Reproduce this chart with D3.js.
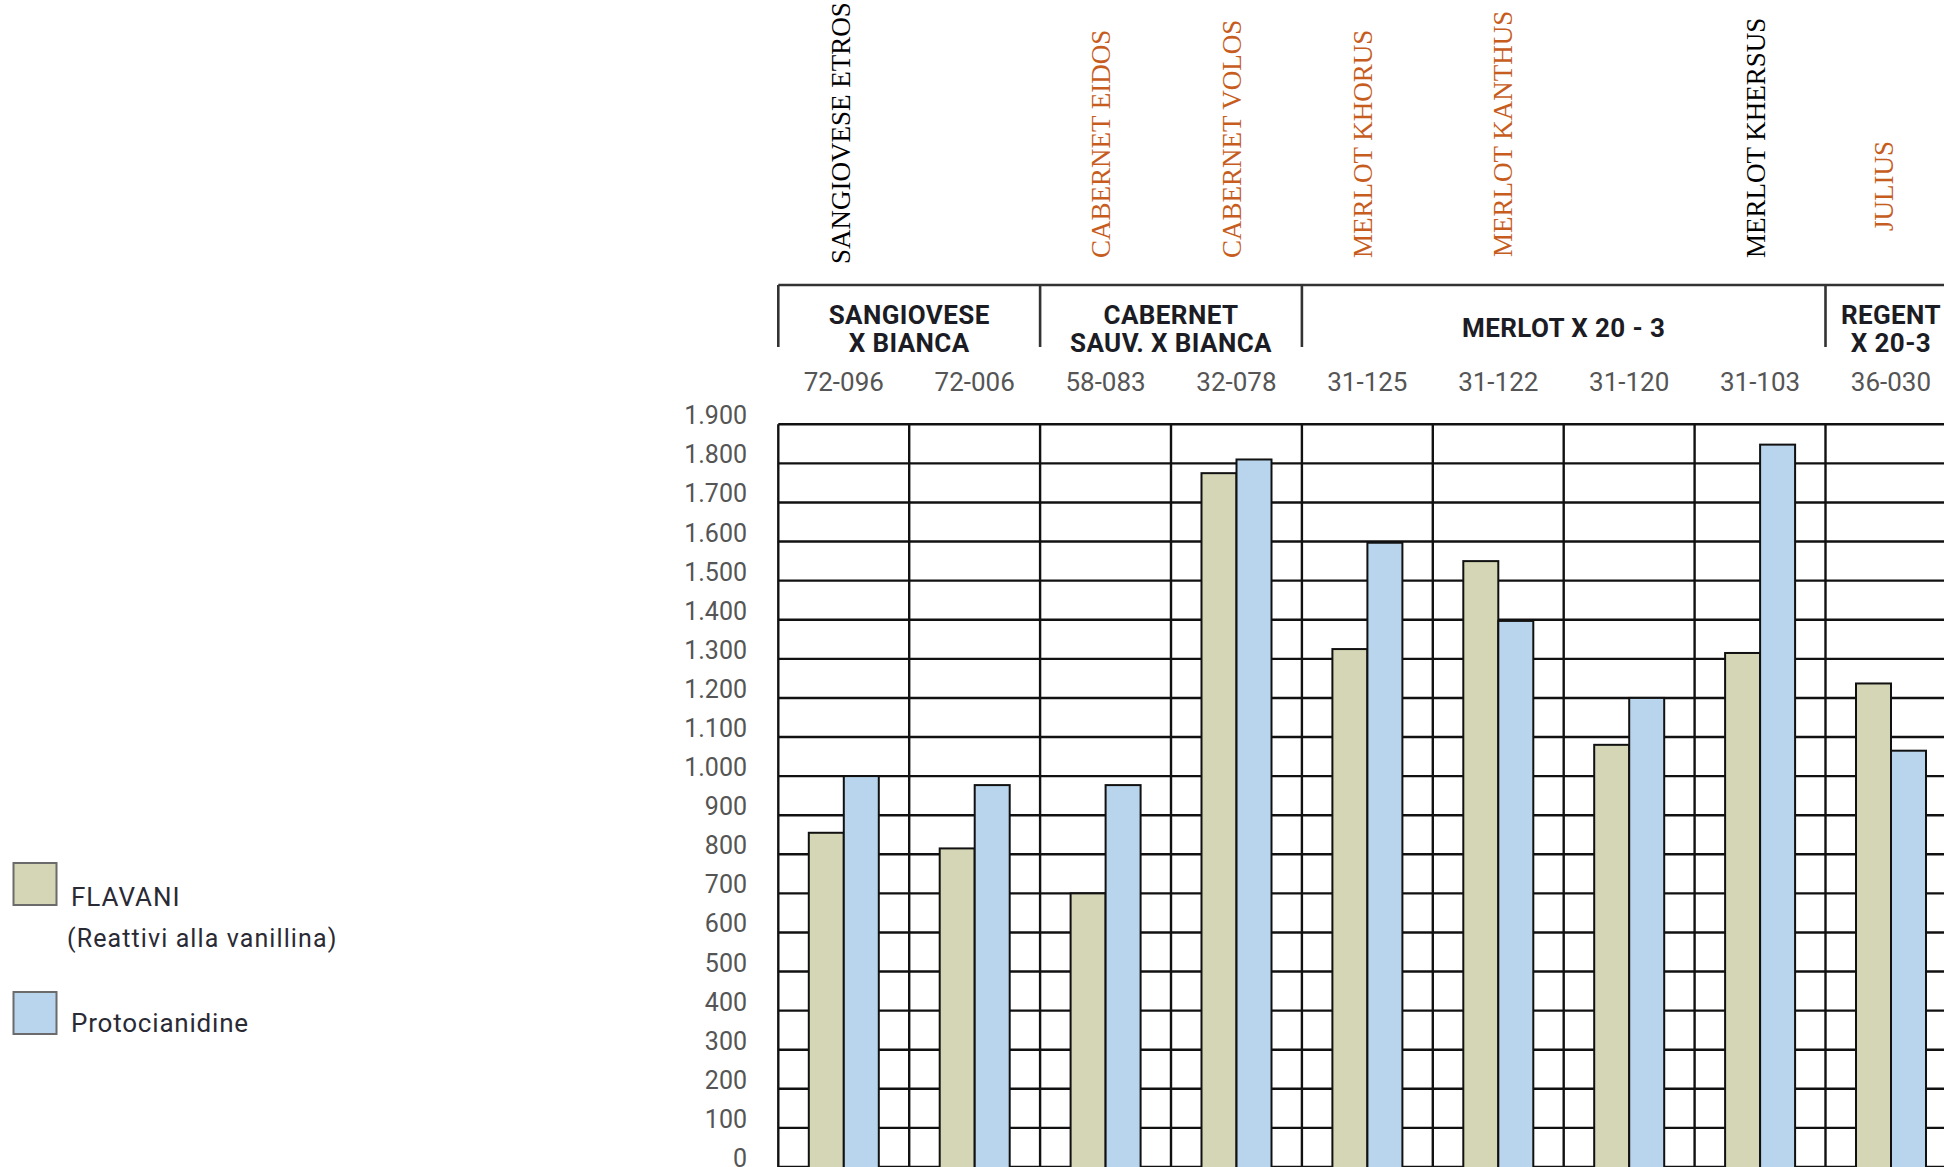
<!DOCTYPE html>
<html>
<head>
<meta charset="utf-8">
<script src="https://cdn.jsdelivr.net/npm/d3@7"></script>
<style>
  body { margin: 0; background: #fff; }
  svg { display: block; }
</style>
</head>
<body>
<svg id="chart" width="1944" height="1167"></svg>
<script>
// clone codes (x categories)
var codes = ["72-096", "72-006", "58-083", "32-078", "31-125", "31-122", "31-120", "31-103", "36-030"];
// FLAVANI (reattivi alla vanillina)
var flavani = [855, 815, 700, 1775, 1325, 1550, 1080, 1315, 1237];
// Protocianidine
var protocianidine = [1000, 977, 977, 1810, 1597, 1397, 1200, 1848, 1065];
// cultivar names written above each clone ("" = none)
var cultivarNames = ["SANGIOVESE ETROS", "", "CABERNET EIDOS", "CABERNET VOLOS", "MERLOT KHORUS", "MERLOT KANTHUS", "", "MERLOT KHERSUS", "JULIUS"];
// crossings and how many clones each one spans
var crossLabels = [["SANGIOVESE", "X BIANCA"], ["CABERNET", "SAUV. X BIANCA"], ["MERLOT X 20 - 3"], ["REGENT", "X 20-3"]];
var crossSpans = [2, 2, 4, 1];
var yTicks = [0, 100, 200, 300, 400, 500, 600, 700, 800, 900, 1000, 1100, 1200, 1300, 1400, 1500, 1600, 1700, 1800, 1900];
var seriesNames = ["FLAVANI", "Protocianidine"];

var svg = d3.select("#chart"),
    width = +svg.attr("width"),
    height = +svg.attr("height");

var colors = { FLAVANI: "#d5d6b5", Protocianidine: "#b8d5ed" },
    orange = "#c65d1e",
    sans = "Roboto, 'DejaVu Sans', sans-serif",
    serif = "'Liberation Serif', 'DejaVu Serif', serif";

var left = 778.3, step = 130.9;

var x = d3.scaleBand()
    .domain(codes)
    .range([left, left + step * codes.length])
    .padding(0);

var sub = d3.scaleBand()
    .domain(seriesNames)
    .range([30.5, 100.5])
    .padding(0);

var y = d3.scaleLinear()
    .domain([0, 1900])
    .range([1167, 424.3]);

var itFormat = d3.formatLocale({ decimal: ",", thousands: ".", grouping: [3], currency: ["", "€"] }).format(",");

svg.append("rect").attr("width", width).attr("height", height).attr("fill", "#fff");

// grid
var grid = svg.append("g").attr("stroke", "#111").attr("stroke-width", 2.4);

grid.selectAll("line.h")
  .data(yTicks)
  .enter().append("line")
    .attr("class", "h")
    .attr("x1", left)
    .attr("x2", width)
    .attr("y1", function(d) { return y(d); })
    .attr("y2", function(d) { return y(d); });

grid.selectAll("line.v")
  .data(codes.concat(["end"]))
  .enter().append("line")
    .attr("class", "v")
    .attr("x1", function(d) { return d === "end" ? x.range()[1] : x(d); })
    .attr("x2", function(d) { return d === "end" ? x.range()[1] : x(d); })
    .attr("y1", y(1900))
    .attr("y2", height);

// y tick labels, baseline sitting on the gridline
svg.append("g")
    .attr("font-family", sans)
    .attr("font-size", 25)
    .attr("fill", "#555")
    .attr("text-anchor", "end")
  .selectAll("text")
  .data(yTicks)
  .enter().append("text")
    .attr("x", 747)
    .attr("y", function(d) { return y(d); })
    .text(itFormat);

// bars
var rows = codes.map(function(c, i) { return { code: c, FLAVANI: flavani[i], Protocianidine: protocianidine[i] }; });

svg.append("g")
  .selectAll("g")
  .data(rows)
  .enter().append("g")
    .attr("transform", function(d) { return "translate(" + x(d.code) + ",0)"; })
  .selectAll("rect")
  .data(function(d) { return seriesNames.map(function(k) { return { key: k, value: d[k] }; }); })
  .enter().append("rect")
    .attr("x", function(d) { return sub(d.key); })
    .attr("width", sub.bandwidth())
    .attr("y", function(d) { return y(d.value); })
    .attr("height", function(d) { return y(0) - y(d.value) + 2; })
    .attr("fill", function(d) { return colors[d.key]; })
    .attr("stroke", "#111")
    .attr("stroke-width", 2);

// clone codes
svg.append("g")
    .attr("font-family", sans)
    .attr("font-size", 26)
    .attr("fill", "#555")
    .attr("text-anchor", "middle")
  .selectAll("text")
  .data(codes)
  .enter().append("text")
    .attr("x", function(d) { return x(d) + x.bandwidth() / 2; })
    .attr("y", 391)
    .text(function(d) { return d; });

// crossing header bracket
var header = svg.append("g");
header.append("line")
    .attr("x1", left).attr("x2", width)
    .attr("y1", 285).attr("y2", 285)
    .attr("stroke", "#333").attr("stroke-width", 2.6);

var startIdx = 0;
crossLabels.forEach(function(lines, i) {
  var x0 = x(codes[startIdx]),
      x1 = x0 + x.step() * crossSpans[i],
      cx = (x0 + x1) / 2;
  header.append("line")
      .attr("x1", x0).attr("x2", x0)
      .attr("y1", 285).attr("y2", 347)
      .attr("stroke", "#333").attr("stroke-width", 2.6);
  var t = header.append("text")
      .attr("font-family", sans)
      .attr("font-weight", "bold")
      .attr("font-size", 26)
      .attr("letter-spacing", 0.4)
      .attr("fill", "#1c1c24")
      .attr("text-anchor", "middle");
  lines.forEach(function(l, j) {
    t.append("tspan")
        .attr("x", cx)
        .attr("y", lines.length === 1 ? 337 : 324 + j * 28)
        .text(l);
  });
  startIdx += crossSpans[i];
});

// cultivar names, rotated
var blackNames = ["SANGIOVESE ETROS", "MERLOT KHERSUS"];
var nameShift = { 0: [-3, 264], 5: [4, 257], 8: [-7, 231] };

svg.append("g")
  .selectAll("text")
  .data(cultivarNames.map(function(n, i) { return { name: n, i: i }; }).filter(function(d) { return d.name; }))
  .enter().append("text")
    .attr("transform", function(d) {
      var s = nameShift[d.i] || [-5, 258];
      return "translate(" + (x(codes[d.i]) + x.bandwidth() / 2 + s[0]) + "," + s[1] + ")rotate(-90)";
    })
    .attr("dy", "0.35em")
    .attr("font-family", serif)
    .attr("font-size", 27)
    .attr("fill", function(d) { return blackNames.indexOf(d.name) >= 0 ? "#000" : orange; })
    .text(function(d) { return d.name; });

// legend
var legend = svg.append("g").attr("font-family", sans).attr("fill", "#2a2a35");

legend.selectAll("rect")
  .data(seriesNames)
  .enter().append("rect")
    .attr("x", 13.5)
    .attr("y", function(d, i) { return i === 0 ? 863 : 992; })
    .attr("width", 43)
    .attr("height", 42)
    .attr("fill", function(d) { return colors[d]; })
    .attr("stroke", "#6b6b6b")
    .attr("stroke-width", 2);

legend.append("text").attr("x", 71).attr("y", 906).attr("font-size", 26).attr("letter-spacing", 1).text("FLAVANI");
legend.append("text").attr("x", 67).attr("y", 947).attr("font-size", 25).attr("letter-spacing", 1.1).text("(Reattivi alla vanillina)");
legend.append("text").attr("x", 71).attr("y", 1032).attr("font-size", 26).attr("letter-spacing", 0.8).text("Protocianidine");
</script>
</body>
</html>
